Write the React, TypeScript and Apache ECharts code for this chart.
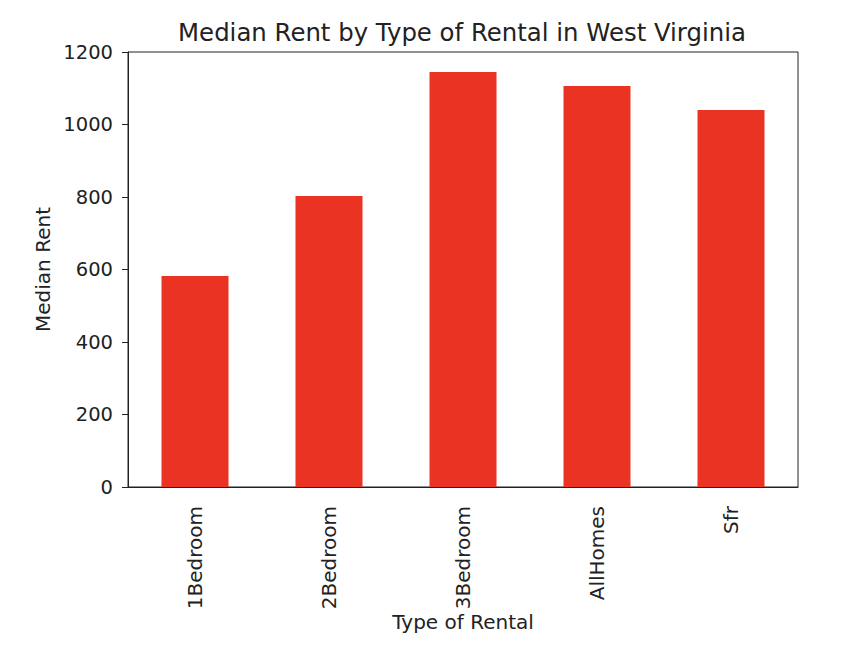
import React, { useEffect, useRef } from "react";
import * as echarts from "echarts";

const categories = ["1Bedroom", "2Bedroom", "3Bedroom", "AllHomes", "Sfr"];
const medianRent = [582, 803, 1145, 1106, 1040];
const yTicks = [0, 200, 400, 600, 800, 1000, 1200];

const FONT = "DejaVu Sans";

export default function App() {
  const ref = useRef<HTMLDivElement>(null);
  useEffect(() => {
    if (!ref.current) return;
    const chart = echarts.init(ref.current, undefined, { renderer: "svg" });
    chart.setOption({
      animation: false,
      backgroundColor: "#fff",
      title: {
        text: "Median Rent by Type of Rental in West Virginia",
        left: 457,
        top: 15,
        textAlign: "center",
        textStyle: { fontFamily: FONT, fontSize: 24.4, fontWeight: "normal", color: "#222" },
      },
      grid: {
        left: 128,
        right: 50,
        top: 52,
        bottom: 171,
        show: true,
        borderColor: "#222",
        borderWidth: 1,
        backgroundColor: "transparent",
      },
      xAxis: {
        type: "category",
        data: categories,
        name: "Type of Rental",
        nameLocation: "middle",
        nameGap: 125,
        nameMoveOverlap: false,
        nameTextStyle: { fontFamily: FONT, fontSize: 20, color: "#222" },
        axisLine: { lineStyle: { color: "#222", width: 1 } },
        axisTick: { alignWithLabel: true, length: 7, lineStyle: { color: "#222" } },
        axisLabel: { rotate: 90, fontFamily: FONT, fontSize: 20, color: "#222", margin: 19 },
      },
      yAxis: {
        type: "value",
        min: 0,
        max: 1200,
        interval: 200,
        name: "Median Rent",
        nameLocation: "middle",
        nameGap: 75,
        nameMoveOverlap: false,
        nameTextStyle: { fontFamily: FONT, fontSize: 20, color: "#222" },
        axisLine: { show: true, lineStyle: { color: "#222", width: 1 } },
        axisTick: { show: true, length: 6, lineStyle: { color: "#222" } },
        splitLine: { show: false },
        axisLabel: {
          fontFamily: FONT,
          fontSize: 19.5,
          color: "#222",
          margin: 15,
          formatter: (v: number) => (yTicks.includes(v) ? String(v) : ""),
        },
      },
      series: [
        {
          type: "bar",
          data: medianRent,
          barWidth: "50%",
          itemStyle: { color: "#EA3323" },
        },
      ],
    });
    return () => chart.dispose();
  }, []);
  return (
    <div
      ref={ref}
      style={{ position: "fixed", left: 0, top: 0, width: 848, height: 658 }}
    />
  );
}
